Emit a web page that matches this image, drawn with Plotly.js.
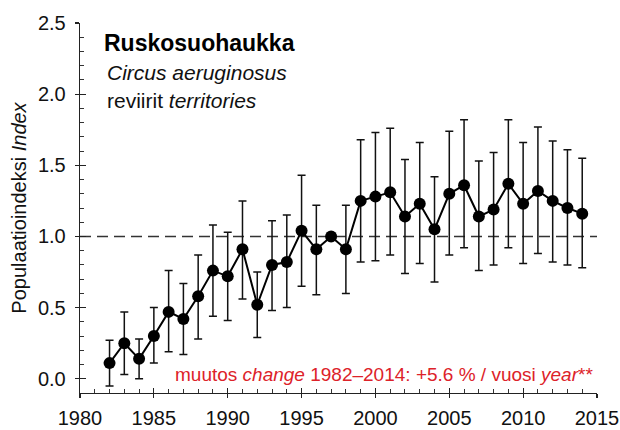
<!DOCTYPE html>
<html><head><meta charset="utf-8">
<script src="https://cdn.plot.ly/plotly-3.0.1.min.js"></script>
<style>html,body{margin:0;padding:0;background:#fff}#c{width:620px;height:430px}</style>
</head><body><div id="c"></div>
<script>
const years = [1982,1983,1984,1985,1986,1987,1988,1989,1990,1991,1992,1993,1994,1995,1996,1997,1998,1999,2000,2001,2002,2003,2004,2005,2006,2007,2008,2009,2010,2011,2012,2013,2014];
const index = [0.11,0.25,0.14,0.30,0.47,0.42,0.58,0.76,0.72,0.91,0.52,0.80,0.82,1.04,0.91,1.00,0.91,1.25,1.28,1.31,1.14,1.23,1.05,1.30,1.36,1.14,1.19,1.37,1.23,1.32,1.25,1.20,1.16];
const upper = [0.27,0.47,0.28,0.50,0.76,0.67,0.87,1.08,1.03,1.25,0.75,1.11,1.15,1.43,1.22,1.00,1.22,1.68,1.73,1.76,1.54,1.66,1.42,1.74,1.82,1.53,1.59,1.82,1.66,1.77,1.67,1.61,1.55];
const lower = [-0.05,0.03,0.00,0.11,0.19,0.17,0.28,0.44,0.41,0.56,0.29,0.48,0.50,0.65,0.59,1.00,0.60,0.82,0.83,0.87,0.74,0.81,0.68,0.87,0.92,0.76,0.80,0.92,0.81,0.88,0.82,0.80,0.78];
const xTicks = [1980,1985,1990,1995,2000,2005,2010,2015];
const yTicks = [0.0,0.5,1.0,1.5,2.0,2.5];
const refLevel = 1.0;

const FONT = 'Liberation Sans, Arial, sans-serif';
const plus = upper.map((u,i)=>u-index[i]);
const minus = lower.map((l,i)=>index[i]-l);

const traces = [
  {x: years, y: index, type:'scatter', mode:'lines+markers',
   line:{color:'#000', width:2},
   marker:{color:'#000', size:12},
   error_y:{type:'data', symmetric:false, array:plus, arrayminus:minus, color:'#111', thickness:1.5, width:4},
   hoverinfo:'skip', showlegend:false},
  {x:[xTicks[0]], y:[yTicks[0]], xaxis:'x2', yaxis:'y2', type:'scatter', mode:'markers', marker:{opacity:0}, hoverinfo:'skip', showlegend:false}
];

const layout = {
  width:620, height:430,
  margin:{l:80, r:23, t:23, b:37},
  paper_bgcolor:'#fff', plot_bgcolor:'#fff',
  font:{family:FONT, color:'#111', size:20},
  xaxis:{range:[1980,2015], tickvals:xTicks, ticktext:xTicks.map(String),
    ticks:'inside', ticklen:5, tickwidth:1.2, tickcolor:'#222',
    minor:{dtick:1, tick0:1980, ticks:'inside', ticklen:4, tickwidth:1, tickcolor:'#333'},
    showline:true, linecolor:'#222', linewidth:1.3, showgrid:false, zeroline:false,
    ticklabelstandoff:7, tickfont:{size:20, family:FONT, color:'#111'}},
  yaxis:{range:[-0.1,2.5], tickvals:yTicks, ticktext:yTicks.map(v=>v.toFixed(1)),
    ticks:'inside', ticklen:6, tickwidth:1.2, tickcolor:'#222',
    minor:{dtick:0.1, tick0:0, ticks:'inside', ticklen:4, tickwidth:1, tickcolor:'#333'},
    showline:true, linecolor:'#222', linewidth:1.3, showgrid:false, zeroline:false,
    ticklabelstandoff:9, tickfont:{size:20, family:FONT, color:'#111'},
    title:{text:'Populaatioindeksi <i>Index</i>', font:{size:20, family:FONT, color:'#111'}, standoff:6}},
  xaxis2:{overlaying:'x', anchor:'y2', range:[1980,2015], tickvals:xTicks, showticklabels:false,
    ticks:'outside', ticklen:4, tickwidth:1.2, tickcolor:'#222', showline:false, showgrid:false, zeroline:false},
  yaxis2:{overlaying:'y', anchor:'x2', range:[-0.1,2.5], tickvals:yTicks, showticklabels:false,
    ticks:'outside', ticklen:4, tickwidth:1.2, tickcolor:'#222', showline:false, showgrid:false, zeroline:false},
  shapes:[{type:'line', xref:'paper', x0:0, x1:1, yref:'y', y0:refLevel, y1:refLevel,
    line:{color:'#333', width:1.5, dash:'11px,6px'}, layer:'below'}],
  annotations:[
    {xref:'paper', yref:'paper', x:0.042, y:0.945, xanchor:'left', yanchor:'middle', showarrow:false,
     text:'<b>Ruskosuohaukka</b>', font:{size:23, family:FONT, color:'#000'}},
    {xref:'paper', yref:'paper', x:0.048, y:0.866, xanchor:'left', yanchor:'middle', showarrow:false,
     text:'<i>Circus aeruginosus</i>', font:{size:21, family:FONT, color:'#111'}},
    {xref:'paper', yref:'paper', x:0.048, y:0.79, xanchor:'left', yanchor:'middle', showarrow:false,
     text:'reviirit <i>territories</i>', font:{size:21, family:FONT, color:'#111'}},
    {xref:'paper', yref:'paper', x:0.996, y:0.051, xanchor:'right', yanchor:'middle', showarrow:false,
     text:'muutos <i>change</i> 1982–2014: +5.6 % / vuosi <i>year</i>**', font:{size:19, family:FONT, color:'#dd2229'}}
  ]
};
Plotly.newPlot('c', traces, layout, {staticPlot:true, displayModeBar:false});
</script></body></html>
